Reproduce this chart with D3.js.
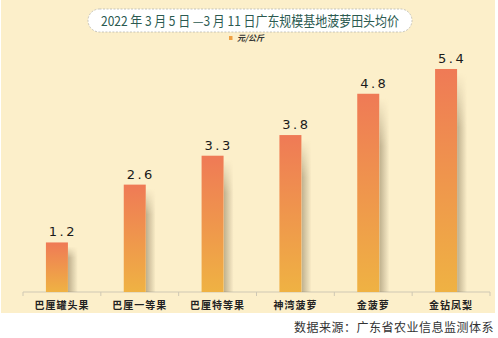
<!DOCTYPE html>
<html><head><meta charset="utf-8">
<script src="https://cdn.jsdelivr.net/npm/d3@7"></script>
<style>html,body{margin:0;padding:0;background:#fff;}svg{display:block;}</style>
</head><body>
<svg id="c" width="498" height="338"></svg>
<script>
const categories = ["巴厘罐头果","巴厘一等果","巴厘特等果","神湾菠萝","金菠萝","金钻凤梨"];
const prices = [1.2, 2.6, 3.3, 3.8, 4.8, 5.4];
const titleText = "2022 年 3 月 5 日 —3 月 11 日广东规模基地菠萝田头均价";
const legendText = "元/公斤";
const sourceText = "数据来源：广东省农业信息监测体系";

const svg = d3.select("#c");
const defs = svg.append("defs");
const g1 = defs.append("linearGradient").attr("id","barGrad").attr("x1",0).attr("y1",0).attr("x2",0).attr("y2",1);
g1.append("stop").attr("offset","0%").attr("stop-color","#ef7a56");
g1.append("stop").attr("offset","100%").attr("stop-color","#efb243");
const g2 = defs.append("linearGradient").attr("id","shGrad").attr("x1",0).attr("y1",0).attr("x2",1).attr("y2",0);
g2.append("stop").attr("offset","0%").attr("stop-color","#8a7a5a").attr("stop-opacity",0.55);
g2.append("stop").attr("offset","100%").attr("stop-color","#8a7a5a").attr("stop-opacity",0);
const g3 = defs.append("linearGradient").attr("id","shMaskGrad").attr("x1",0).attr("y1",0).attr("x2",0).attr("y2",1);
g3.append("stop").attr("offset","0%").attr("stop-color","#fff").attr("stop-opacity",0);
g3.append("stop").attr("offset","25%").attr("stop-color","#fff").attr("stop-opacity",1);
g3.append("stop").attr("offset","100%").attr("stop-color","#fff").attr("stop-opacity",1);
const mask = defs.append("mask").attr("id","shMask").attr("maskContentUnits","objectBoundingBox");
mask.append("rect").attr("x",0).attr("y",0).attr("width",1).attr("height",1).attr("fill","url(#shMaskGrad)");

// background panel
svg.append("rect").attr("x",1).attr("y",0).attr("width",494).attr("height",313).attr("fill","#fcefca");

const x = d3.scaleBand().domain(categories).range([23, 490]).padding(0);
const y = d3.scaleLinear().domain([0, 6]).range([292, 292 - 41.3*6]);

const barW = 22, shW = 10;

// title pill
svg.append("rect").attr("x",88).attr("y",9).attr("width",324).attr("height",23).attr("rx",11.5)
  .attr("fill","#fff").attr("stroke","#b8b8b0").attr("stroke-width",0.8).attr("stroke-dasharray","2,1.5");
svg.append("text").attr("x",101).attr("y",26)
  .attr("textLength",298).attr("lengthAdjust","spacingAndGlyphs")
  .attr("font-family","'Noto Sans CJK SC', sans-serif").attr("font-size",13.5).attr("fill","#2b5a50")
  .text(titleText);

// legend
svg.append("rect").attr("x",229).attr("y",36).attr("width",3.5).attr("height",4).attr("fill","#f0a043");
svg.append("text").attr("x",237).attr("y",41).attr("font-family","'Noto Sans CJK SC', sans-serif")
  .attr("font-size",8).attr("font-style","italic").attr("font-weight","bold").attr("fill","#333").text(legendText);

// axis
const ag = svg.append("g").attr("transform","translate(0,292)");
ag.append("line").attr("x1",23).attr("x2",490).attr("y1",0).attr("y2",0).attr("stroke","#cfc8b4").attr("stroke-width",1);
const bounds = categories.map(c => x(c)).concat([x.range()[1]]);
ag.selectAll("line.tk").data(bounds).join("line").attr("class","tk")
  .attr("x1",d=>d).attr("x2",d=>d).attr("y1",0).attr("y2",4).attr("stroke","#cfc8b4");

// bars
const bars = svg.append("g").selectAll("g").data(categories).join("g");
bars.append("rect")
  .attr("x", (d)=> x(d) + x.bandwidth()/2 - (barW+shW)/2 + barW)
  .attr("y", (d,i)=> y(prices[i]) + 4)
  .attr("width", shW)
  .attr("height", (d,i)=> y(0) - y(prices[i]) - 4)
  .attr("fill","url(#shGrad)").attr("mask","url(#shMask)");
bars.append("rect")
  .attr("x", (d)=> x(d) + x.bandwidth()/2 - (barW+shW)/2)
  .attr("y", (d,i)=> y(prices[i]))
  .attr("width", barW)
  .attr("height", (d,i)=> y(0) - y(prices[i]))
  .attr("fill","url(#barGrad)");
bars.append("text")
  .attr("x", d=> x(d) + x.bandwidth()/2 + 1)
  .attr("y", (d,i)=> y(prices[i]) - 6)
  .attr("text-anchor","middle")
  .attr("font-family","'DejaVu Sans', sans-serif").attr("font-size",13).attr("letter-spacing",2.5)
  .attr("fill","#1a1a1a")
  .text((d,i)=> prices[i].toFixed(1));

// category labels
svg.append("g").selectAll("text").data(categories).join("text")
  .attr("x", d=> x(d) + x.bandwidth()/2)
  .attr("y", 309)
  .attr("text-anchor","middle")
  .attr("font-family","'Noto Sans CJK SC', sans-serif").attr("font-size",10).attr("font-weight","bold")
  .attr("letter-spacing",1).attr("fill","#222")
  .text(d=>d);

// source
svg.append("text").attr("x",494).attr("y",332).attr("text-anchor","end")
  .attr("font-family","'Noto Sans CJK SC', sans-serif").attr("font-size",12).attr("letter-spacing",0.5)
  .attr("fill","#333").text(sourceText);
</script>
</body></html>
